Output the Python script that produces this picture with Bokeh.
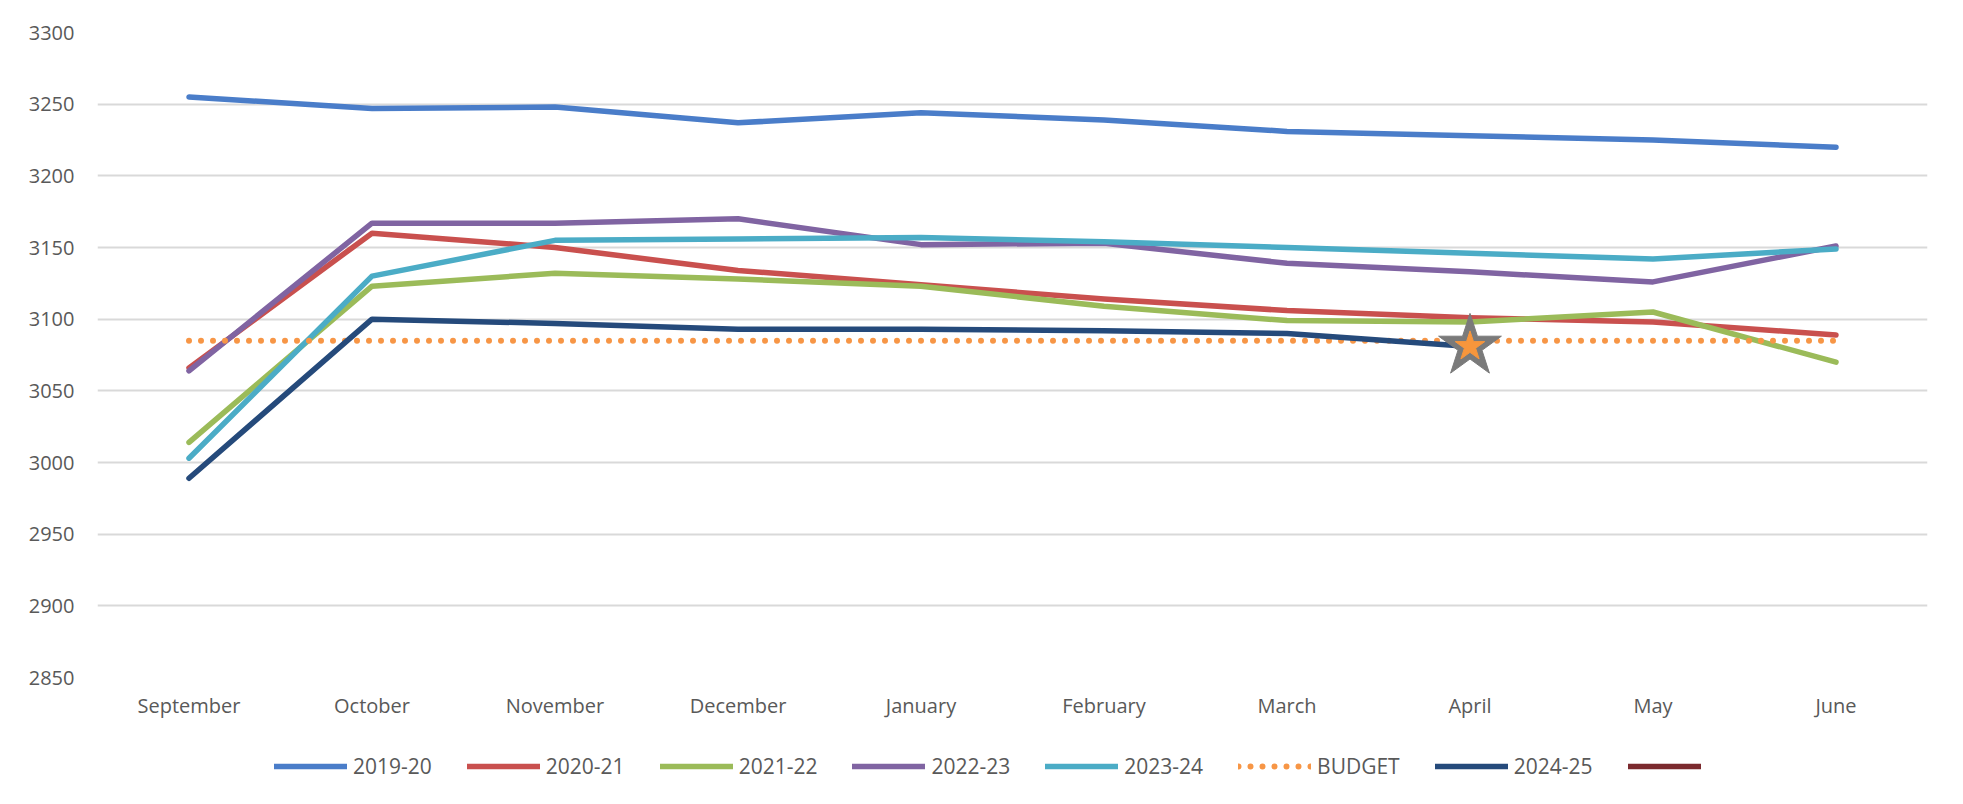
from bokeh.plotting import figure
from bokeh.models import (FactorRange, Range1d, FixedTicker, Legend, LegendItem)
from bokeh.layouts import column
from bokeh.embed import file_html
from bokeh.resources import INLINE

months = ["September", "October", "November", "December", "January",
          "February", "March", "April", "May", "June"]

s2019_20 = [3255, 3247, 3248, 3237, 3244, 3239, 3231, 3228, 3225, 3220]
s2020_21 = [3066, 3160, 3150, 3134, 3124, 3114, 3106, 3101, 3098, 3089]
s2021_22 = [3014, 3123, 3132, 3128, 3123, 3109, 3099, 3098, 3105, 3070]
s2022_23 = [3064, 3167, 3167, 3170, 3152, 3153, 3139, 3133, 3126, 3151]
s2023_24 = [3003, 3130, 3155, 3156, 3157, 3154, 3150, 3146, 3142, 3149]
budget = [3085, 3085, 3085, 3085, 3085, 3085, 3085, 3085, 3085, 3085]
s2024_25 = [2989, 3100, 3097, 3093, 3093, 3092, 3090, 3081]
s_extra = [float("nan")]   # legend-only series, no values shown

star_month = ["April"]
star_value = [3081]

y_ticks = [2850, 2900, 2950, 3000, 3050, 3100, 3150, 3200, 3250, 3300]

FONT = "Open Sans"
TXT = "#595959"

p = figure(width=1963, height=740, x_range=FactorRange(*months, range_padding=0),
           y_range=Range1d(2850, 3300), output_backend="svg", toolbar_location=None,
           min_border_left=97, min_border_right=36, min_border_top=32,
           min_border_bottom=63)
p.outline_line_color = None
p.background_fill_color = "white"
p.border_fill_color = "white"

p.xgrid.grid_line_color = None
p.ygrid.grid_line_color = "#d9d9d9"
p.ygrid.grid_line_width = 2
p.yaxis.ticker = FixedTicker(ticks=y_ticks)

for ax in (p.xaxis[0], p.yaxis[0]):
    ax.axis_line_color = None
    ax.major_tick_line_color = None
    ax.minor_tick_line_color = None
    ax.major_tick_out = 0
    ax.major_tick_in = 0
    ax.minor_tick_out = 0
    ax.major_label_text_font = FONT
    ax.major_label_text_font_size = "20px"
    ax.major_label_text_color = TXT
p.yaxis.major_label_standoff = 23
p.xaxis.major_label_standoff = 14

# legend strip below the chart (its own glyphs sit outside its visible range)
q = figure(width=1963, height=64, x_range=FactorRange(*months, range_padding=0),
           y_range=Range1d(0, 1), output_backend="svg", toolbar_location=None,
           x_axis_location=None, y_axis_location=None,
           min_border_left=0, min_border_right=0, min_border_top=0, min_border_bottom=0)
q.grid.visible = False
q.outline_line_color = None
q.border_fill_color = "white"
q.background_fill_color = "white"

series = [
    ("2019-20", s2019_20, "#4a7dc9", None),
    ("2020-21", s2020_21, "#c9504e", None),
    ("2021-22", s2021_22, "#9bbb59", None),
    ("2022-23", s2022_23, "#8064a2", None),
    ("2023-24", s2023_24, "#4bacc6", None),
    ("BUDGET", budget, "#f79646", "0 12"),
    ("2024-25", s2024_25, "#254a7b", None),
    (" ", s_extra, "#7b2a2e", None),
]
items = []
for name, vals, col, dash in series:
    kw = dict(line_color=col, line_cap="round", line_join="round")
    if dash:
        kw.update(line_dash=dash, line_width=6)
    else:
        kw.update(line_width=5.5)
    p.line(months[:len(vals)], vals, **kw)
    r = q.line(months[:len(vals)], vals, **kw)
    items.append(LegendItem(label=name, renderers=[r]))

p.scatter(star_month, star_value, marker="star", size=66, fill_color="#7a7a7a",
          line_color="#7a7a7a")
p.scatter(star_month, star_value, marker="star", size=31, fill_color="#f7963c",
          line_color="#f7963c")

legend = Legend(items=items, orientation="horizontal", location=(177, 24),
                glyph_width=73, glyph_height=20, label_standoff=6, label_width=51,
                spacing=35, padding=5, margin=0,
                label_text_font=FONT, label_text_font_size="21px",
                label_text_color=TXT, border_line_color=None,
                background_fill_alpha=0)
q.add_layout(legend, "center")

layout = column(p, q, spacing=0)
open("out.html", "w").write(file_html(layout, INLINE))
